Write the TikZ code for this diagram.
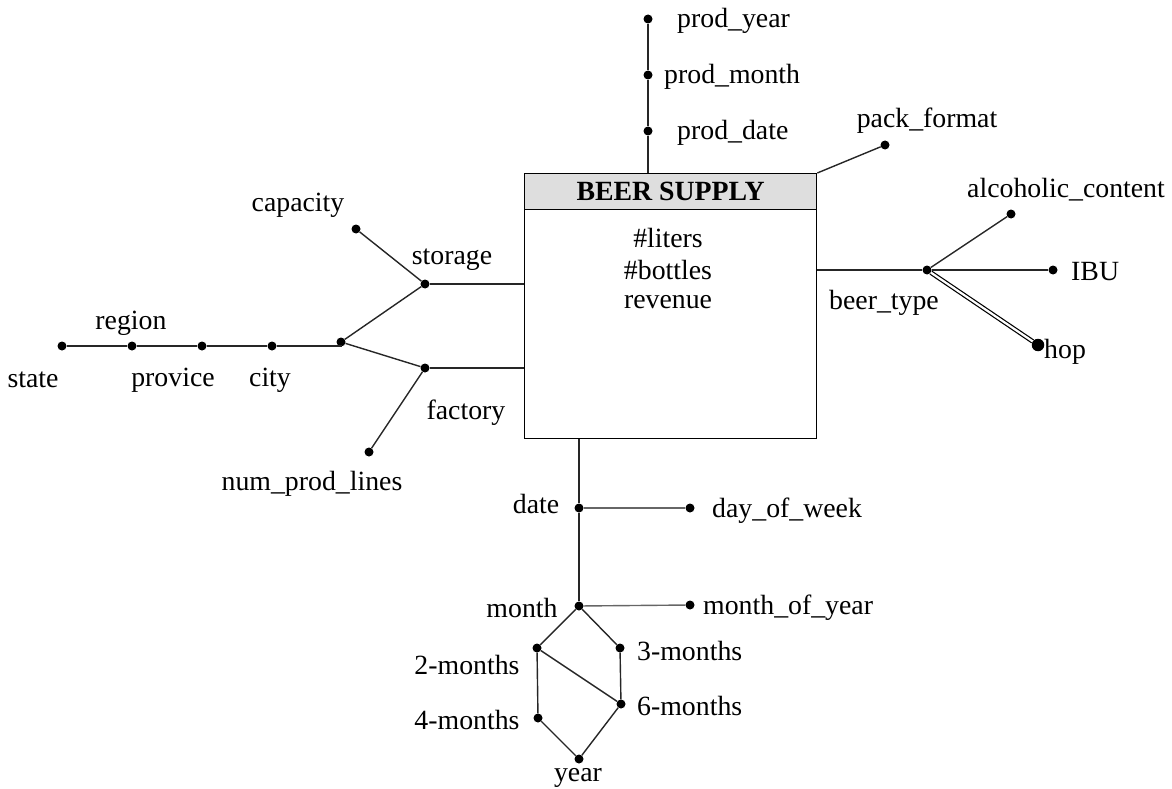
\documentclass[tikz,border=0pt]{standalone}
\usepackage{fontspec}
\setmainfont{Liberation Serif}
\usepackage{tikz}

\tikzset{
  dot/.style={circle, fill=black, inner sep=0pt, minimum size=9pt},
  bigdot/.style={dot, minimum size=12.5pt},
  lbl/.style={inner sep=0pt, font=\fontsize{27.8}{31}\selectfont},
  link/.style={line width=1.4pt, draw=black!85}
}

\begin{document}
\begin{tikzpicture}[x=1pt, y=-1pt]
\useasboundingbox (0,0) rectangle (1172,789);

% fact
\node[draw, line width=1.3pt, minimum width=292pt, minimum height=265pt, anchor=north west, inner sep=0pt] (fact) at (524,173) {};
\node[draw, line width=1.3pt, fill=black!13, minimum width=292pt, minimum height=36pt, anchor=north west, inner sep=0pt, font=\fontsize{27.8}{31}\selectfont\bfseries] (head) at (524,173) {BEER SUPPLY};
\node[lbl] (m1) at (668,238) {\#liters};
\node[lbl] (m2) at (668,270) {\#bottles};
\node[lbl] (m3) at (668,302) {revenue};

% production date
\node[dot] (py) at (648,19) {};
\node[dot] (pm) at (648,75) {};
\node[dot] (pd) at (648,131) {};
\node[lbl, anchor=west] (py-l) at (677,21) {prod\_year};
\node[lbl, anchor=west] (pm-l) at (664,77) {prod\_month};
\node[lbl, anchor=west] (pd-l) at (677,133) {prod\_date};
\draw[link] (py) -- (pm) -- (pd) -- (pd |- fact.north);

% pack format
\node[dot] (pf) at (885,145) {};
\node[lbl] (pf-l) at (927,121) {pack\_format};
\draw[link] (fact.north east) -- (pf);

% beer type
\node[dot] (bt) at (927,270) {};
\node[dot] (alc) at (1011,214) {};
\node[dot] (ibu) at (1053,270) {};
\node[bigdot] (hop) at (1038,345) {};
\node[lbl] (bt-l) at (884,303) {beer\_type};
\node[lbl] (alc-l) at (1066,190) {alcoholic\_content};
\node[lbl, anchor=west] (ibu-l) at (1071,272) {IBU};
\node[lbl, anchor=west] (hop-l) at (1044,352) {hop};
\draw[link] (bt -| fact.east) -- (bt);
\draw[link] (bt) -- (alc);
\draw[link] (bt) -- (ibu);
\draw[line width=1.2pt, double, double distance=2.2pt] (bt) -- (hop);

% storage and factory
\node[dot] (stor) at (425,284) {};
\node[dot] (cap) at (356,229) {};
\node[dot] (fac) at (425,368) {};
\node[dot] (npl) at (369,452) {};
\node[dot] (city) at (272,346) {};
\node[dot] (prov) at (202,346) {};
\node[dot] (reg) at (132,346) {};
\node[dot] (state) at (62,346) {};
\node[dot] (loc) at (341,342) {};
\node[lbl] (stor-l) at (452,260) {storage};
\node[lbl] (cap-l) at (298,205) {capacity};
\node[lbl] (fac-l) at (466,413) {factory};
\node[lbl] (npl-l) at (312,484) {num\_prod\_lines};
\node[lbl] (city-l) at (270,380) {city};
\node[lbl] (prov-l) at (173,380) {provice};
\node[lbl] (reg-l) at (131,323) {region};
\node[lbl] (state-l) at (33,380) {state};
\draw[link] (stor) -- (stor -| fact.west);
\draw[link] (fac) -- (fac -| fact.west);
\draw[link] (cap) -- (stor) -- (loc) -- (fac) -- (npl);
\draw[link] (state) -- (reg) -- (prov) -- (city) -- (city -| loc) -- (loc);

% date
\node[dot] (date) at (579,508) {};
\node[dot] (dow) at (690,508) {};
\node[dot] (mon) at (579,606) {};
\node[dot] (moy) at (690,605) {};
\node[dot] (m2m) at (537,648) {};
\node[dot] (m3m) at (620,648) {};
\node[dot] (m6m) at (621,704) {};
\node[dot] (m4m) at (538,718) {};
\node[dot] (yr) at (579,759) {};
\node[lbl] (date-l) at (536,504) {date};
\node[lbl, anchor=west] (dow-l) at (712,511) {day\_of\_week};
\node[lbl] (mon-l) at (522,608) {month};
\node[lbl, anchor=west] (moy-l) at (703,608) {month\_of\_year};
\node[lbl] (m2m-l) at (467,665) {2-months};
\node[lbl, anchor=west] (m3m-l) at (637,651) {3-months};
\node[lbl, anchor=west] (m6m-l) at (637,706) {6-months};
\node[lbl] (m4m-l) at (467,720) {4-months};
\node[lbl] (yr-l) at (578,778) {year};
\draw[link] (fact.south -| date) -- (date) -- (mon);
\draw[link, draw=black!60] (date) -- (dow);
\draw[link, draw=black!60] (mon) -- (moy);
\draw[link] (mon) -- (m2m) -- (m4m) -- (yr) -- (m6m) -- (m3m) -- (mon);
\draw[link] (m2m) -- (m6m);
\end{tikzpicture}
\end{document}
